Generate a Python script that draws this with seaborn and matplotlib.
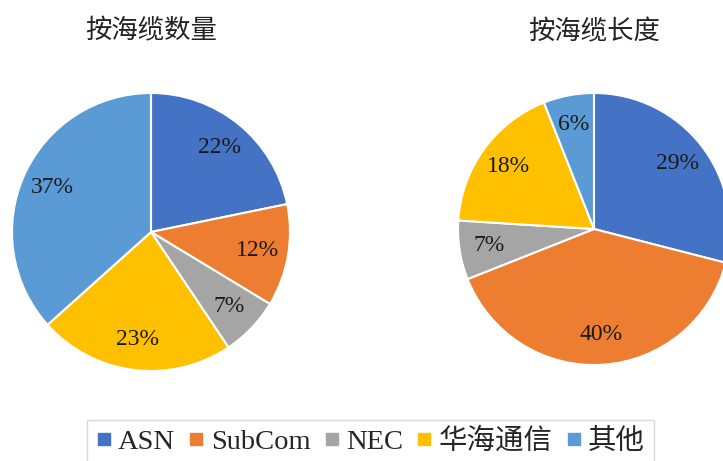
import matplotlib
matplotlib.use("Agg")
import matplotlib.pyplot as plt
from matplotlib.lines import Line2D
import seaborn as sns

# data
vendors = ["ASN", "SubCom", "NEC", "华海通信", "其他"]
share_by_count = [22, 12, 7, 23, 37]
share_by_length = [29, 40, 7, 18, 6]
titles = ["按海缆数量", "按海缆长度"]
colors = ["#4472C4", "#ED7D31", "#A5A5A5", "#FFC000", "#5B9BD5"]

sns.set_theme(style="white")
plt.rcParams["font.family"] = ["Liberation Serif", "Noto Sans CJK SC", "DejaVu Sans"]

W, H = 723, 461
fig = plt.figure(figsize=(W / 100, H / 100), dpi=100)
fig.patch.set_facecolor("white")


def pie_axes(cx, cy, r):
    # pixel centre (from top-left) and radius -> figure fraction axes
    return fig.add_axes([(cx - r) / W, (H - cy - r) / H, 2 * r / W, 2 * r / H])


def draw_pie(ax, values, title, title_y):
    wedges, texts, autotexts = ax.pie(
        values, colors=colors, startangle=90, counterclock=False,
        autopct=lambda p: f"{p:.0f}%", pctdistance=0.78,
        wedgeprops=dict(edgecolor="white", linewidth=1.5),
        textprops=dict(fontsize=17, color="#1a1a1a"),
    )
    for w in wedges:
        w.set_clip_on(False)
    ax.set_xlim(-1, 1)
    ax.set_ylim(-1, 1)
    ax.set_aspect("equal")
    ax.axis("off")
    ax.text(0, title_y, title, ha="center", va="center", fontsize=19,
            color="#222222", family=["Noto Sans CJK SC"])
    return wedges


ax1 = pie_axes(151, 232, 139)
draw_pie(ax1, share_by_count, titles[0], 1.45)

ax2 = pie_axes(594, 229, 136)
draw_pie(ax2, share_by_length, titles[1], 1.45)

handles = [Line2D([0], [0], marker="s", linestyle="", markersize=9,
                  markerfacecolor=c, markeredgecolor=c) for c in colors]
leg = fig.legend(handles, vendors, loc="center", ncol=5,
                 bbox_to_anchor=(0.512, 0.042), frameon=True, fontsize=20.5,
                 handletextpad=0.2, columnspacing=0.45, borderpad=0.3,
                 borderaxespad=0, fancybox=False, handlelength=0.6)
leg.get_frame().set_edgecolor("#d0d0d0")
leg.get_frame().set_linewidth(1.0)

fig.savefig("out.png", dpi=100)
